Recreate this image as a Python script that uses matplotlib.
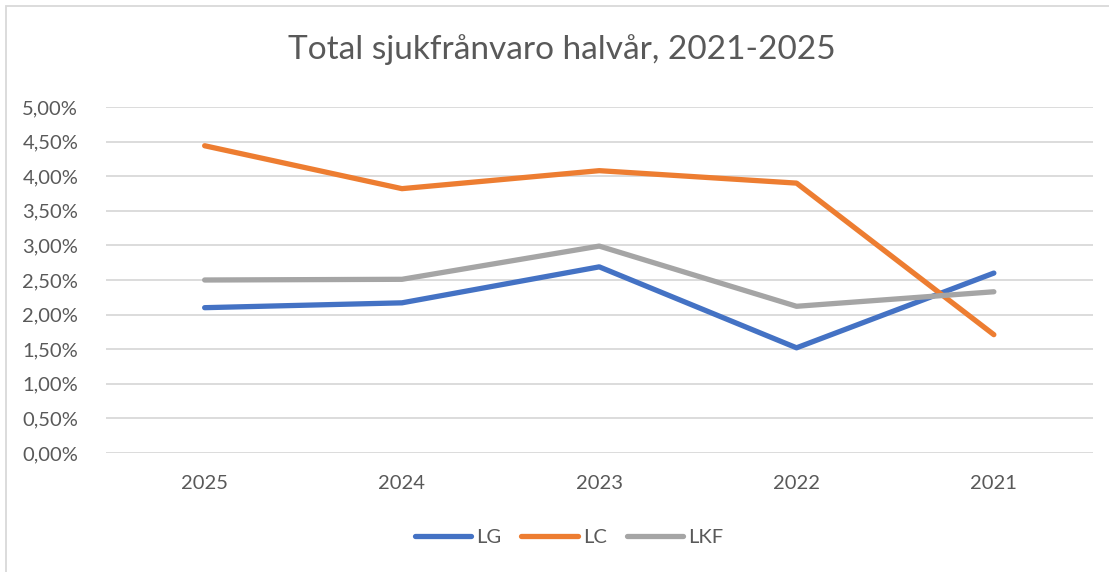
import matplotlib.pyplot as plt
from matplotlib.patches import Rectangle

years = ["2025", "2024", "2023", "2022", "2021"]
lg = [2.10, 2.17, 2.69, 1.52, 2.60]
lc = [4.44, 3.82, 4.08, 3.90, 1.71]
lkf = [2.50, 2.51, 2.99, 2.12, 2.33]
series = [("LG", lg, "#4472C4"), ("LC", lc, "#ED7D31"), ("LKF", lkf, "#A5A5A5")]

plt.rcParams['font.family'] = ['Lato', 'DejaVu Sans']
txt = "#595959"

fig = plt.figure(figsize=(11.09, 5.72), dpi=100)
ax = fig.add_axes([106 / 1109, 1 - 453 / 572, 986.5 / 1109, 346 / 572])

x = range(len(years))
for name, vals, col in series:
    ax.plot(x, vals, color=col, lw=3.8, solid_capstyle='round',
            solid_joinstyle='round', label=name)

ax.set_xlim(-0.5, len(years) - 0.5)
ax.set_ylim(0, 5)
ax.set_xticks(list(x))
ax.set_xticklabels(years)
yt = [i * 0.5 for i in range(11)]
ax.set_yticks(yt)
ax.set_yticklabels([f"{v:.2f}%".replace(".", ",") for v in yt])
ax.grid(axis='y', color="#D9D9D9", lw=1.3)
ax.set_axisbelow(True)
for s in ax.spines.values():
    s.set_visible(False)
ax.tick_params(length=0, colors=txt, labelsize=14.5)
ax.tick_params(axis='x', pad=16)
ax.tick_params(axis='y', pad=20)

fig.text(562 / 1109, 1 - 50 / 572, "Total sjukfrånvaro halvår, 2021-2025",
         ha='center', va='center', fontsize=24, color=txt)

leg = fig.legend(loc='center', bbox_to_anchor=(569 / 1109, 1 - 537 / 572), ncol=3,
                 frameon=False, fontsize=14.5, handlelength=2.8,
                 columnspacing=1.0, handletextpad=0.25)
for t in leg.get_texts():
    t.set_color(txt)

fig.patches.append(Rectangle((6 / 1109, -0.01), 1.1, 1 - 6 / 572 + 0.01,
                             transform=fig.transFigure, fill=False,
                             edgecolor="#D9D9D9", lw=1.3))

fig.savefig("out.png", dpi=100)
